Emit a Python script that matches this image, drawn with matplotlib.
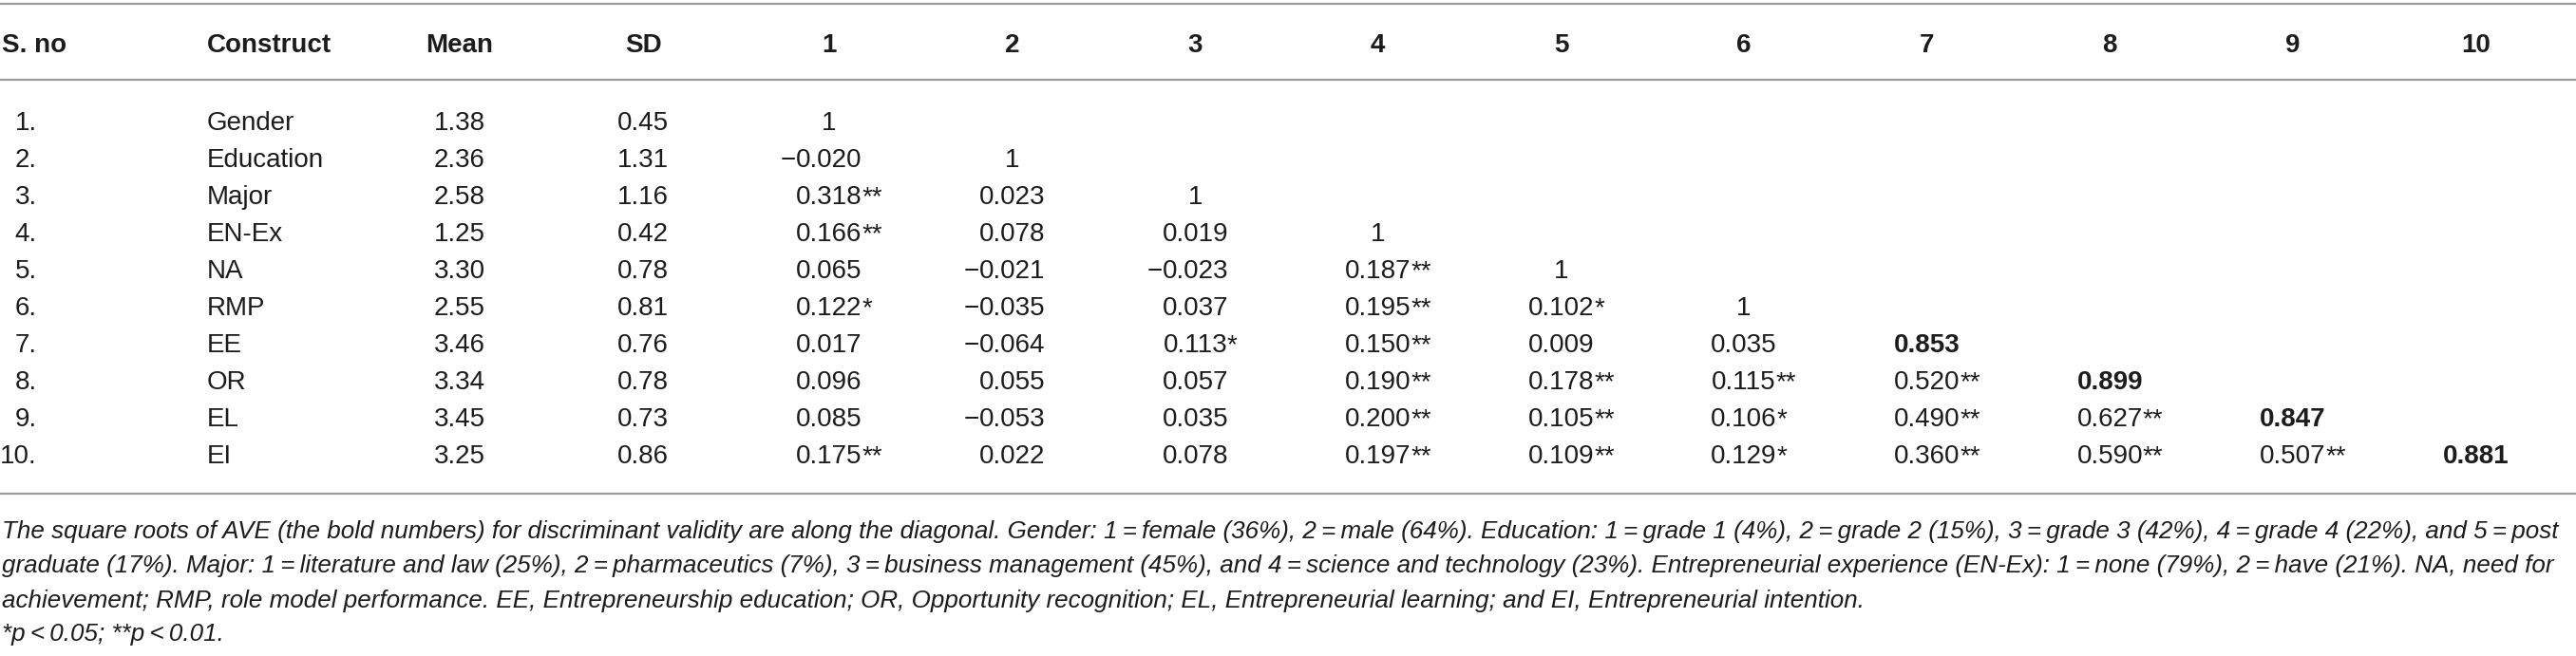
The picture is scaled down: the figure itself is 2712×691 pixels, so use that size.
import matplotlib
matplotlib.use("Agg")
import matplotlib.pyplot as plt

# table content
sno = ["1.", "2.", "3.", "4.", "5.", "6.", "7.", "8.", "9.", "10."]
constructs = ["Gender", "Education", "Major", "EN-Ex", "NA", "RMP", "EE", "OR", "EL", "EI"]
means = ["1.38", "2.36", "2.58", "1.25", "3.30", "2.55", "3.46", "3.34", "3.45", "3.25"]
sds = ["0.45", "1.31", "1.16", "0.42", "0.78", "0.81", "0.76", "0.78", "0.73", "0.86"]
col_labels = ["1", "2", "3", "4", "5", "6", "7", "8", "9", "10"]

# lower triangle (off diagonal), row by row
corr = [
    [],
    ["\u22120.020"],
    ["0.318**", "0.023"],
    ["0.166**", "0.078", "0.019"],
    ["0.065", "\u22120.021", "\u22120.023", "0.187**"],
    ["0.122*", "\u22120.035", "0.037", "0.195**", "0.102*"],
    ["0.017", "\u22120.064", "0.113*", "0.150**", "0.009", "0.035"],
    ["0.096", "0.055", "0.057", "0.190**", "0.178**", "0.115**", "0.520**"],
    ["0.085", "\u22120.053", "0.035", "0.200**", "0.105**", "0.106*", "0.490**", "0.627**"],
    ["0.175**", "0.022", "0.078", "0.197**", "0.109**", "0.129*", "0.360**", "0.590**", "0.507**"],
]
diag = ["1", "1", "1", "1", "1", "1", "0.853", "0.899", "0.847", "0.881"]
diag_bold = [False] * 6 + [True] * 4

notes = [
    "The square roots of AVE (the bold numbers) for discriminant validity are along the diagonal. "
    "Gender: 1\u2009=\u2009female (36%), 2\u2009=\u2009male (64%). Education: 1\u2009=\u2009grade 1 (4%), "
    "2\u2009=\u2009grade 2 (15%), 3\u2009=\u2009grade 3 (42%), 4\u2009=\u2009grade 4 (22%), and 5\u2009=\u2009post",
    "graduate (17%). Major: 1\u2009=\u2009literature and law (25%), 2\u2009=\u2009pharmaceutics (7%), "
    "3\u2009=\u2009business management (45%), and 4\u2009=\u2009science and technology (23%). "
    "Entrepreneurial experience (EN-Ex): 1\u2009=\u2009none (79%), 2\u2009=\u2009have (21%). NA, need for",
    "achievement; RMP, role model performance. EE, Entrepreneurship education; OR, Opportunity recognition; "
    "EL, Entrepreneurial learning; and EI, Entrepreneurial intention.",
    "*p\u2009<\u20090.05; **p\u2009<\u20090.01.",
]

plt.rcParams['font.family'] = ['Liberation Sans', 'DejaVu Sans']

W, H = 2712, 691
fig = plt.figure(figsize=(W / 100, H / 100), dpi=100)
ax = fig.add_axes([0, 0, 1, 1])
ax.set_xlim(0, W)
ax.set_ylim(H, 0)
ax.axis("off")
renderer = fig.canvas.get_renderer()

FS = 20
TXT = "#1c1c1c"
RULE = "#9a9a9a"

for y in (4, 84, 520):
    ax.plot([0, W], [y, y], color=RULE, lw=1.6, solid_capstyle="butt")

head_base = 55
row_base0, row_dy = 137, 39
col_x0, col_dx = 873, 192.6
x_sno, x_con, x_mean, x_sd = 39, 218, 484, 677


def put_value(s, x, y, bold=False):
    sign = ""
    if s.startswith("\u2212"):
        sign, s = s[0], s[1:]
    core = s.rstrip("*")
    stars = s[len(core):]
    wt = "bold" if bold else "normal"
    t = ax.text(x, y, core, ha="center", va="baseline", fontsize=FS,
                fontweight=wt, color=TXT)
    w = t.get_window_extent(renderer).width
    if stars:
        ax.text(x + w / 2, y, stars, ha="left", va="baseline", fontsize=FS, color=TXT)
    if sign:
        ax.text(x - w / 2, y, sign, ha="right", va="baseline", fontsize=FS, color=TXT)


# header
hd = dict(va="baseline", fontsize=FS, fontweight="bold", color=TXT)
ax.text(2, head_base, "S. no", ha="left", **hd)
ax.text(x_con, head_base, "Construct", ha="left", **hd)
ax.text(x_mean, head_base, "Mean", ha="center", **hd)
ax.text(x_sd, head_base, "SD", ha="center", **hd)
for j, lab in enumerate(col_labels):
    ax.text(col_x0 + j * col_dx, head_base, lab, ha="center", **hd)

# body
bd = dict(va="baseline", fontsize=FS, color=TXT)
for i in range(len(sno)):
    y = row_base0 + i * row_dy
    ax.text(x_sno, y, sno[i], ha="right", **bd)
    ax.text(x_con, y, constructs[i], ha="left", **bd)
    ax.text(x_mean, y, means[i], ha="center", **bd)
    ax.text(x_sd, y, sds[i], ha="center", **bd)
    for j, val in enumerate(corr[i]):
        put_value(val, col_x0 + j * col_dx, y)
    put_value(diag[i], col_x0 + i * col_dx, y, bold=diag_bold[i])

# footnotes, sized so that the first line fills the width
note_base = [567, 603, 640, 675]
probe = ax.text(0, 0, notes[0], fontsize=FS, style="italic")
fs_note = FS * 2676 / probe.get_window_extent(renderer).width
probe.remove()
for k, line in enumerate(notes):
    ax.text(2, note_base[k], line, ha="left", va="baseline", fontsize=fs_note,
            style="italic", color=TXT)

fig.savefig("out.png", dpi=100, facecolor="white")
